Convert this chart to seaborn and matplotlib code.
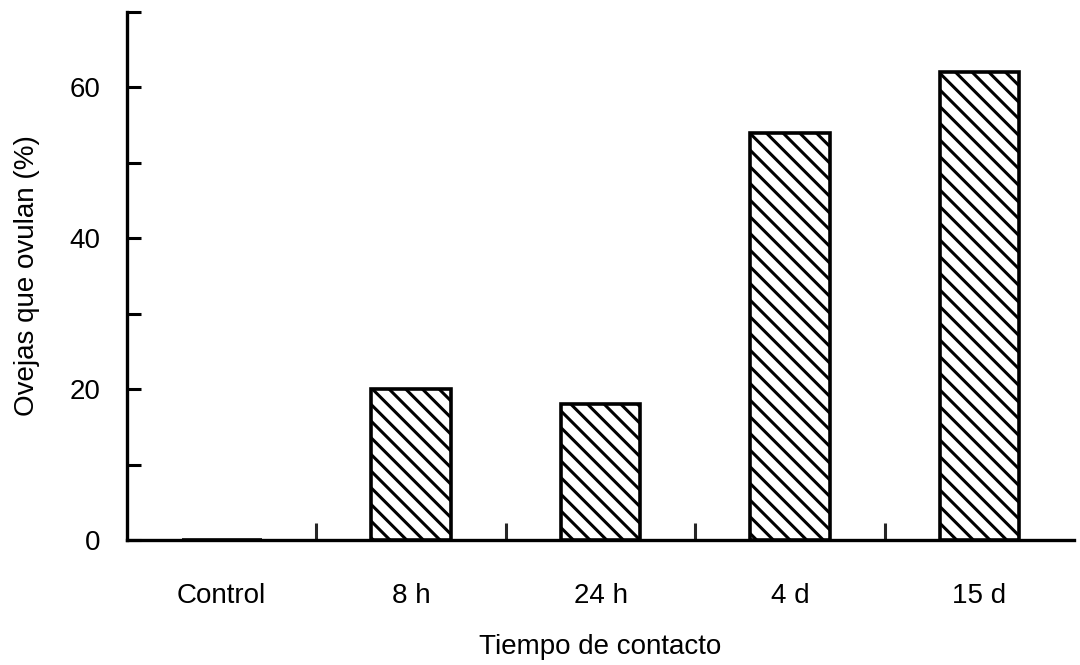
import numpy as np
import pandas as pd
import matplotlib

matplotlib.use("Agg")
import matplotlib.pyplot as plt
import seaborn as sns

categorias = ["Control", "8 h", "24 h", "4 d", "15 d"]
ovulan_pct = [0, 20, 18, 54, 62]

sns.set_theme(style="ticks")
plt.rcParams["font.family"] = ["Liberation Sans", "DejaVu Sans"]
plt.rcParams["hatch.linewidth"] = 2.2
plt.rcParams["hatch.color"] = "black"

df = pd.DataFrame({"cat": categorias, "pct": ovulan_pct})

fig = plt.figure(figsize=(10.8, 6.65), dpi=100)
ax = fig.add_axes([0.1176, 0.188, 0.877, 0.794])

sns.barplot(data=df, x="cat", y="pct", color="white", edgecolor="black",
            linewidth=2.6, width=0.42, saturation=1, ax=ax, zorder=3)
for p in ax.patches:
    p.set_hatch("\\\\")
    p.set_facecolor("white")

ax.set_ylim(0, 70)
ax.set_xlim(-0.5, len(categorias) - 0.5)

# y: ticks every 10, labels only on 0/20/40/60
ax.set_yticks([0, 20, 40, 60])
ax.set_yticks([10, 30, 50, 70], minor=True)
ax.tick_params(axis="y", which="both", direction="in", length=10, width=2.2,
               labelsize=20, pad=19, colors="black")

# x: tick marks between categories, labels at centers
ax.set_xticks(range(len(categorias)))
ax.set_xticklabels(categorias)
ax.set_xticks(np.arange(0.5, len(categorias) - 1, 1.0), minor=True)
ax.tick_params(axis="x", which="major", length=0, labelsize=20, pad=31,
               colors="black")
ax.tick_params(axis="x", which="minor", direction="in", length=12, width=2.2)

ax.set_xlabel("Tiempo de contacto", fontsize=20, labelpad=18, color="black")
ax.set_ylabel("Ovejas que ovulan (%)", fontsize=20, labelpad=21, color="black")

for s in ["top", "right"]:
    ax.spines[s].set_visible(False)
for s in ["left", "bottom"]:
    ax.spines[s].set_linewidth(2.4)
    ax.spines[s].set_color("black")

plt.savefig("out.png", dpi=100)
